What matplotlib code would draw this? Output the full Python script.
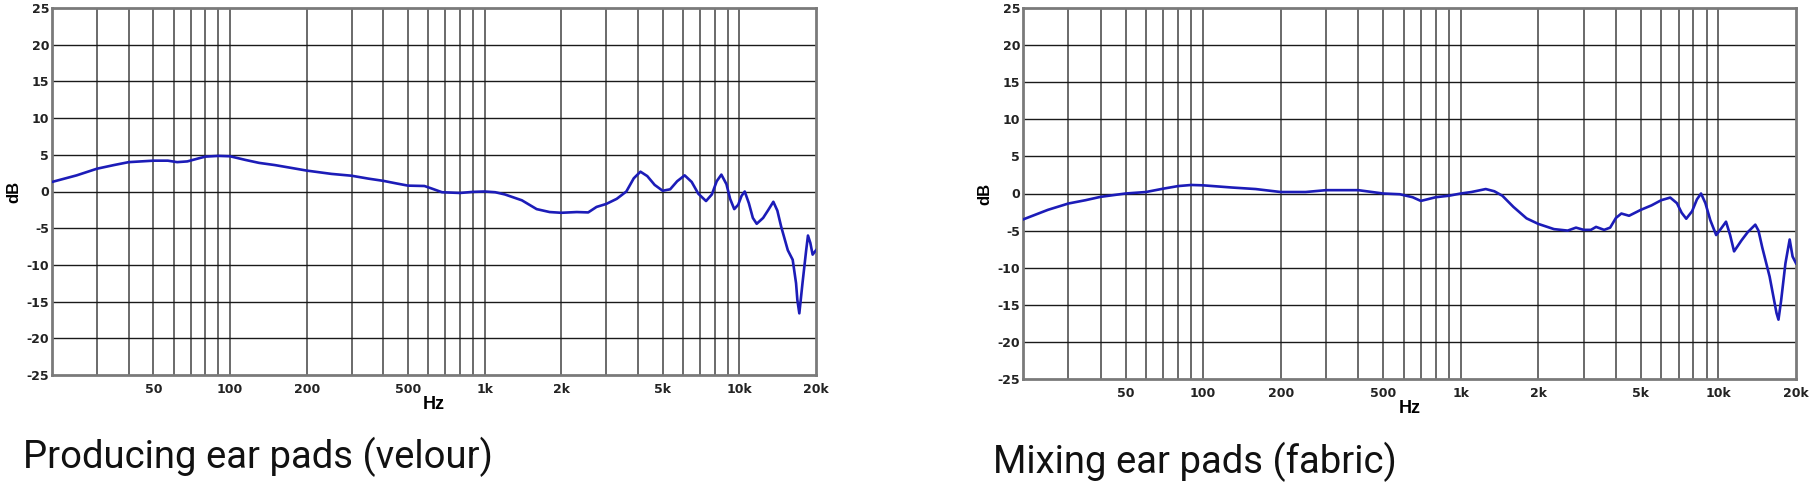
import numpy as np
import matplotlib
matplotlib.use("Agg")
import matplotlib.pyplot as plt
from matplotlib.ticker import FixedLocator, NullFormatter

# ---- data
freq_velour = [20, 25, 30, 35, 40, 50, 57, 62, 68, 75, 80, 90, 100, 115, 130, 150, 175,
               200, 250, 300, 350, 400, 450, 500, 580, 620, 680, 800, 900, 1000, 1100,
               1200, 1400, 1600, 1800, 2000, 2300, 2550, 2750, 3000, 3300, 3600, 3850,
               4090, 4350, 4650, 5000, 5350, 5700, 6100, 6500, 6900, 7400, 7800, 8150,
               8500, 8900, 9200, 9550, 9900, 10200, 10500, 10900, 11300, 11700, 12400,
               13000, 13600, 14100, 14600, 15500, 16200, 16700, 16900, 17200, 17700,
               18300, 18600, 19000, 19400, 20000]
db_velour = [1.3, 2.2, 3.1, 3.6, 4.0, 4.2, 4.2, 4.0, 4.1, 4.5, 4.75, 4.85, 4.8, 4.3, 3.9,
             3.6, 3.2, 2.85, 2.4, 2.15, 1.75, 1.45, 1.1, 0.8, 0.75, 0.4, -0.1, -0.2, -0.05,
             0.0, -0.1, -0.4, -1.2, -2.4, -2.8, -2.9, -2.8, -2.85, -2.1, -1.7, -1.0, 0.0,
             1.8, 2.7, 2.1, 0.9, 0.1, 0.3, 1.4, 2.2, 1.3, -0.3, -1.3, -0.4, 1.4, 2.3, 1.0,
             -1.0, -2.4, -1.8, -0.6, 0.0, -1.6, -3.6, -4.4, -3.6, -2.5, -1.4, -2.6, -4.8,
             -8.0, -9.3, -12.5, -14.8, -16.6, -12.5, -8.0, -6.0, -7.0, -8.6, -8.0]

freq_fabric = [20, 25, 30, 35, 40, 50, 60, 70, 80, 90, 100, 130, 160, 200, 250, 300, 400,
               500, 580, 650, 700, 800, 900, 1000, 1100, 1250, 1350, 1450, 1600, 1800,
               2000, 2300, 2600, 2800, 3000, 3200, 3350, 3600, 3800, 4000, 4200, 4500,
               5000, 5500, 6000, 6500, 6900, 7200, 7500, 7900, 8250, 8560, 8900, 9300,
               9800, 10300, 10700, 11100, 11500, 12300, 13000, 13900, 14300, 14800,
               15800, 16800, 17100, 17500, 18200, 18900, 19400, 20000]
db_fabric = [-3.5, -2.2, -1.35, -0.9, -0.45, 0.0, 0.2, 0.65, 1.0, 1.15, 1.1, 0.8, 0.6,
             0.2, 0.2, 0.45, 0.45, 0.0, -0.1, -0.5, -1.0, -0.5, -0.3, 0.0, 0.2, 0.6, 0.3,
             -0.3, -1.8, -3.35, -4.1, -4.8, -5.0, -4.6, -4.9, -4.9, -4.5, -4.9, -4.6,
             -3.3, -2.7, -3.0, -2.2, -1.6, -0.9, -0.55, -1.3, -2.6, -3.4, -2.4, -0.8, 0.0,
             -1.3, -3.6, -5.6, -4.6, -3.8, -5.6, -7.8, -6.3, -5.2, -4.2, -5.0, -7.3,
             -11.2, -16.1, -17.0, -14.5, -9.4, -6.2, -8.5, -9.4]

captions = ["Producing ear pads (velour)", "Mixing ear pads (fabric)"]
xtick_vals = [50, 100, 200, 500, 1000, 2000, 5000, 10000, 20000]
xtick_labels = ["50", "100", "200", "500", "1k", "2k", "5k", "10k", "20k"]
ytick_vals = list(range(-25, 30, 5))
grid_freqs = [m * 10 ** e for e in (1, 2, 3) for m in range(1, 10)] + [10000, 20000]

W, H = 1817, 491
fig = plt.figure(figsize=(W / 100, H / 100), dpi=100)

# axes boxes in pixels: left, top, right, bottom
boxes = [(52, 8, 816, 375), (1023, 8, 1796, 379)]
caption_xy = [(23, 468), (993, 473)]
series = [(freq_velour, db_velour), (freq_fabric, db_fabric)]

for (l, t, r, b), (f, d), cap, (cx, cy) in zip(boxes, series, captions, caption_xy):
    ax = fig.add_axes([l / W, 1 - b / H, (r - l) / W, (b - t) / H])
    ax.set_xscale("log")
    ax.set_xlim(20, 20000)
    ax.set_ylim(-25, 25)

    for g in grid_freqs:
        if 20 < g < 20000:
            ax.axvline(g, color="#6a6a6a", lw=1.4, zorder=1)
    for y in ytick_vals[1:-1]:
        ax.axhline(y, color="#1a1a1a", lw=1.0, zorder=1)

    ax.plot(f, d, color="#1c1cb8", lw=1.9, zorder=3)

    ax.xaxis.set_major_locator(FixedLocator(xtick_vals))
    ax.set_xticklabels(xtick_labels, family=["Liberation Sans Narrow", "DejaVu Sans"],
                       fontweight="bold", fontsize=9, color="#222222")
    ax.xaxis.set_minor_formatter(NullFormatter())
    ax.set_yticks(ytick_vals)
    ax.set_yticklabels([str(v) for v in ytick_vals], family=["Liberation Sans Narrow", "DejaVu Sans"],
                       fontweight="bold", fontsize=9, color="#222222")
    ax.tick_params(which="both", length=0)
    ax.tick_params(axis="x", pad=6)
    ax.tick_params(axis="y", pad=2)

    for s in ax.spines.values():
        s.set_color("#7a7a7a")
        s.set_linewidth(2)

    ax.set_xlabel("Hz", family=["Liberation Sans", "DejaVu Sans"], fontweight="bold",
                  fontsize=13, labelpad=0)
    ax.set_ylabel("dB", family=["Liberation Sans", "DejaVu Sans"], fontweight="bold",
                  fontsize=12, labelpad=4)

    fig.text(cx / W, 1 - cy / H, cap, family=["Roboto", "DejaVu Sans"], fontsize=27.5,
             color="#111111", ha="left", va="baseline")

fig.savefig("out.png", dpi=100, facecolor="white")
